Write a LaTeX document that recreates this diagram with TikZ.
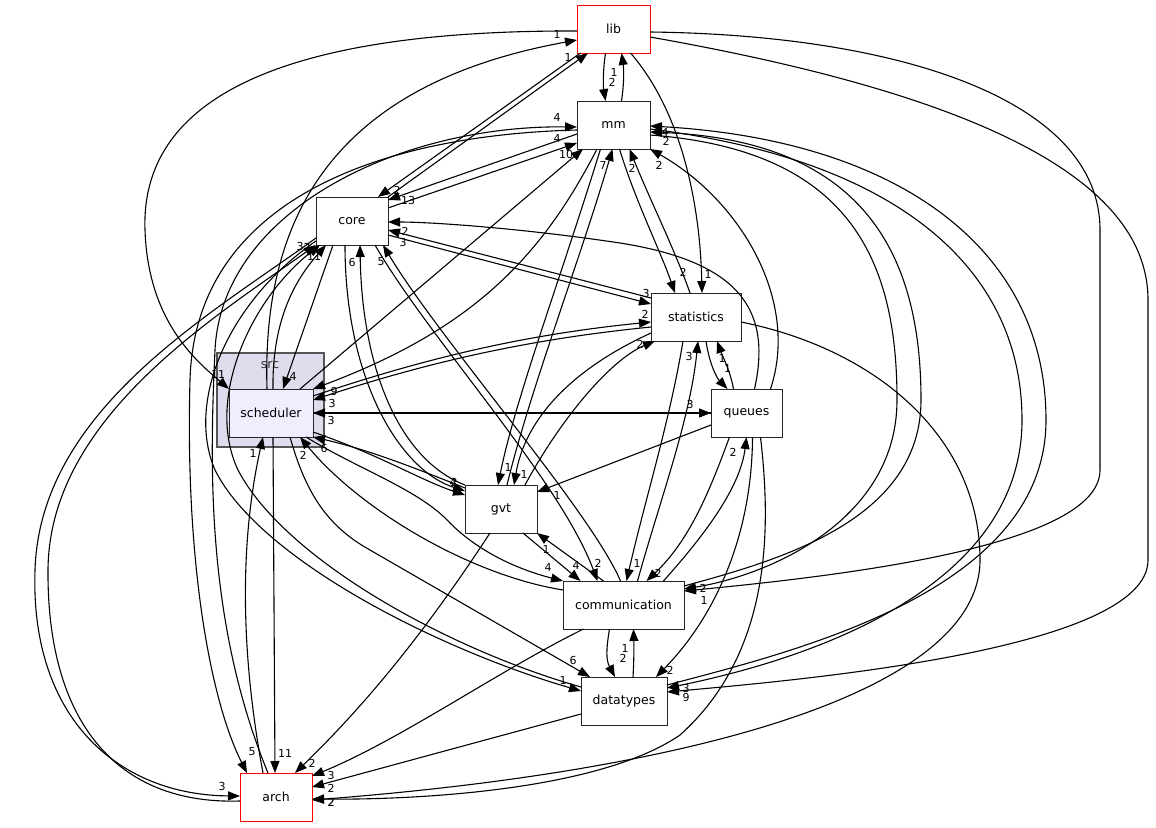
\documentclass[tikz,border=0pt]{standalone}
\usepackage{fontspec}
\setmainfont{DejaVu Sans}
\usepackage{xcolor}
\usetikzlibrary{arrows.meta}
\definecolor{clusterfill}{HTML}{DDDDEE}
\definecolor{clusterline}{HTML}{555555}
\definecolor{schedfill}{HTML}{EEEEFF}
\newcommand{\dirfont}{\fontsize{12.5}{14}\selectfont}
\newcommand{\cntfont}{\fontsize{11}{12}\selectfont}

\begin{document}
\begin{tikzpicture}[x=1pt, y=-1pt,
	dirbox/.style={draw=black!85, line width=1pt, fill=white, minimum height=48pt, minimum width=72pt, inner sep=0pt, outer sep=0pt, font=\dirfont},
	extdir/.style={dirbox, draw=red},
	curdir/.style={dirbox, fill=schedfill},
	cluster/.style={draw=clusterline, line width=1.5pt, fill=clusterfill, inner sep=0pt, outer sep=0pt},
	dep/.style={line width=1.1pt, -{Triangle[length=12pt, width=9pt]}},
	cnt/.style={font=\cntfont, inner sep=0pt}]
		
		\useasboundingbox (0,0) rectangle (1156,827);
		
		%src
		\node[cluster, minimum width=107pt, minimum height=94pt] (src) at (270.5,400) {};
		\node[font=\dirfont, text=black!80] (srcname) at (270,365) {src};
		%lib
		\node[extdir, minimum width=73pt] (lib) at (613.5,29) {lib};
		%mm
		\node[dirbox, minimum width=73pt] (mm) at (613.5,125) {mm};
		%core
		\node[dirbox] (core) at (352,221) {core};
		%statistics
		\node[dirbox, minimum width=90pt] (stats) at (696,317) {statistics};
		%scheduler
		\node[curdir, minimum width=84pt] (sched) at (271,413) {scheduler};
		%queues
		\node[dirbox, minimum width=71pt] (queues) at (746.5,413) {queues};
		%gvt
		\node[dirbox] (gvt) at (501,509) {gvt};
		%communication
		\node[dirbox, minimum width=121pt] (comm) at (623.5,605) {communication};
		%datatypes
		\node[dirbox, minimum width=86pt] (dtypes) at (624,701) {datatypes};
		%arch
		\node[extdir] (arch) at (276,797) {arch};
		
		%lib
		\draw[dep] ([yshift=-2pt]lib.west) .. controls (300,30) and (140,90) .. (145,230) .. controls (148,320) and (195,360) .. (sched.north west) node[cnt, at end, xshift=-11pt, yshift=15pt] {11};
		\draw[dep] ([xshift=-33pt]lib.south) -- ([xshift=26pt]core.north) node[cnt, at end, xshift=19pt, yshift=7pt] {2};
		\draw[dep] ([xshift=-8pt]lib.south) .. controls (603,70) and (603,85) .. ([xshift=-8pt]mm.north) node[cnt, at end, xshift=6.5pt, yshift=19pt] {2};
		\draw[dep] ([xshift=17pt]lib.south) .. controls (680,110) and (700,200) .. ([xshift=6pt]stats.north) node[cnt, at end, xshift=6pt, yshift=19pt] {1};
		\draw[dep] ([yshift=-3pt]lib.east) .. controls (900,35) and (1100,100) .. (1100,230) -- (1100,470) .. controls (1100,545) and (850,575) .. ([yshift=14pt]comm.east) node[cnt, at end, xshift=20pt, yshift=-9pt] {1};
		\draw[dep] ([yshift=-8pt]lib.east) .. controls (950,90) and (1148,170) .. (1148,300) -- (1148,560) .. controls (1148,650) and (800,680) .. ([yshift=9pt]dtypes.east) node[cnt, at end, xshift=19pt, yshift=4pt] {3};
		
		%mm
		\draw[dep] ([xshift=8pt]mm.north) .. controls (624,85) and (624,70) .. ([xshift=8pt]lib.south) node[cnt, at end, xshift=-7.5pt, yshift=-19pt] {1};
		\draw[dep] ([yshift=-9pt]mm.west) -- ([yshift=21pt]core.east) node[cnt, at end, xshift=20pt] {13};
		\draw[dep] ([yshift=-5pt]mm.west) .. controls (380,135) and (195,200) .. (190,380) .. controls (185,560) and (210,700) .. ([xshift=-29pt]arch.north) node[cnt, at end, xshift=5pt, yshift=21pt] {5};
		\draw[dep] ([xshift=-16.5pt]mm.south) .. controls (540,260) and (470,330) .. (sched.north east) node[cnt, at end, xshift=21pt, yshift=-2pt] {9};
		\draw[dep] ([xshift=-13pt]mm.south) .. controls (560,280) and (515,400) .. ([xshift=-3pt]gvt.north) node[cnt, at end, xshift=10pt, yshift=18pt] {1};
		\draw[dep] ([xshift=6pt]mm.south) .. controls (635,200) and (660,250) .. ([xshift=-21pt]stats.north) node[cnt, at end, xshift=8pt, yshift=21pt] {2};
		\draw[dep] ([yshift=-10pt]mm.east) .. controls (850,150) and (897,260) .. (897,400) .. controls (897,520) and (770,575) .. ([yshift=16pt]comm.east) node[cnt, at end, xshift=19pt, yshift=1pt] {2};
		\draw[dep] ([yshift=-4pt]mm.east) .. controls (900,160) and (1022,270) .. (1022,420) .. controls (1022,600) and (780,665) .. ([yshift=13pt]dtypes.east) node[cnt, at end, xshift=19pt, yshift=-9pt] {9};
		
		%core
		\draw[dep] (core.north east) -- ([xshift=-25.5pt]lib.south) node[cnt, at end, xshift=-20pt, yshift=-4pt] {1};
		\draw[dep] ([yshift=13pt]core.east) -- ([yshift=-18pt]mm.west) node[cnt, at end, xshift=-20pt, yshift=5pt] {4};
		\draw[dep] ([yshift=-14pt]core.east) -- ([yshift=-11pt]stats.north west) node[cnt, at end, xshift=-5pt, yshift=11pt] {3};
		\draw[dep] ([xshift=-19pt]core.south) -- ([xshift=12pt]sched.north) node[cnt, at end, xshift=10pt, yshift=13pt] {4};
		\draw[dep] ([xshift=-7pt]core.south) .. controls (345,380) and (400,470) .. ([yshift=-6pt]gvt.north west) node[cnt, at end, xshift=-11pt, yshift=9pt] {2};
		\draw[dep] ([xshift=23pt]core.south) .. controls (430,340) and (560,480) .. ([xshift=-26pt]comm.north) node[cnt, at end, xshift=0.5pt, yshift=18pt] {2};
		\draw[dep] ([yshift=-20pt]core.west) .. controls (230,300) and (185,400) .. (215,470) .. controls (260,560) and (440,650) .. ([yshift=10pt]dtypes.west) node[cnt, at end, xshift=-18pt, yshift=11pt] {1};
		\draw[dep] ([yshift=-17pt]core.west) .. controls (210,315) and (40,410) .. (35,570) .. controls (30,720) and (120,795) .. ([yshift=1pt]arch.west) node[cnt, at end, xshift=-18pt, yshift=10pt] {3};
		
		%statistics
		\draw[dep] ([xshift=-6pt]stats.north) .. controls (675,250) and (650,200) .. ([xshift=16pt]mm.south) node[cnt, at end, xshift=2.5pt, yshift=-19pt] {2};
		\draw[dep] ([yshift=-5pt]stats.north west) -- ([yshift=-9pt]core.east) node[cnt, at end, xshift=15pt, yshift=-12pt] {3};
		\draw[dep] ([yshift=-10pt]stats.west) .. controls (520,340) and (420,365) .. ([yshift=13pt]sched.east) node[cnt, at end, xshift=19pt, yshift=-3pt] {3};
		\draw[dep] ([yshift=8pt]stats.south west) .. controls (570,370) and (525,420) .. ([xshift=13pt]gvt.north) node[cnt, at end, xshift=10pt, yshift=11pt] {1};
		\draw[dep] ([xshift=-13pt]stats.south) .. controls (670,420) and (645,500) .. ([xshift=3pt]comm.north) node[cnt, at end, xshift=10.5pt, yshift=18pt] {1};
		\draw[dep] ([xshift=10pt]stats.south) .. controls (709,362) and (716,377) .. ([xshift=-19pt]queues.north) node[cnt, at end, yshift=21pt] {1};
		\draw[dep] ([yshift=-5pt]stats.east) .. controls (880,350) and (980,440) .. (980,560) .. controls (980,690) and (700,770) .. ([yshift=-3pt]arch.east) node[cnt, at end, xshift=19pt, yshift=-2pt] {2};
		
		%scheduler
		\draw[dep] ([xshift=-4pt]sched.north) .. controls (262,220) and (330,85) .. ([yshift=-11pt]lib.west) node[cnt, at end, xshift=-20pt, yshift=6pt] {1};
		\draw[dep] ([xshift=-13pt]sched.north east) -- ([xshift=-30.5pt]mm.south) node[cnt, at end, xshift=-17pt, yshift=-5pt] {10};
		\draw[dep] ([xshift=2pt]sched.north) .. controls (272,320) and (295,280) .. ([xshift=-26pt]core.south) node[cnt, at end, xshift=-12pt, yshift=-11pt] {11};
		\draw[dep] ([yshift=17pt]sched.east) .. controls (420,360) and (520,335) .. ([yshift=-5pt]stats.west) node[cnt, at end, xshift=-6pt, yshift=8pt] {2};
		\draw[dep] (sched.east) -- (queues.west) node[cnt, at end, xshift=-21pt, yshift=9pt] {3};
		\draw[dep] ([yshift=-19pt]sched.east) .. controls (380,455) and (420,480) .. ([yshift=-10pt]gvt.north west) node[cnt, at end, xshift=-12pt, yshift=13pt] {4};
		\draw[dep] ([xshift=-7pt]sched.south east) .. controls (360,470) and (420,490) .. (450,523) .. controls (480,553) and (520,570) .. (comm.north west) node[cnt, at end, xshift=-15pt, yshift=14pt] {4};
		\draw[dep] ([xshift=19pt]sched.south) .. controls (305,490) and (325,525) .. (370,550) -- ([xshift=-34pt]dtypes.north) node[cnt, at end, xshift=-17pt, yshift=17pt] {6};
		\draw[dep] ([xshift=2pt]sched.south) -- ([xshift=-1pt]arch.north) node[cnt, at end, xshift=10pt, yshift=20pt] {11};
		
		%queues
		\draw[dep] ([xshift=24pt]queues.north) .. controls (800,300) and (740,200) .. (mm.south east) node[cnt, at end, xshift=9pt, yshift=-16pt] {2};
		\draw[dep] ([xshift=8pt]queues.north) .. controls (772,310) and (740,262) .. (620,243) .. controls (520,228) and (430,222) .. ([yshift=-1pt]core.east) node[cnt, at end, xshift=17pt, yshift=-9pt] {2};
		\draw[dep] ([xshift=-13pt]queues.north) .. controls (730,370) and (722,355) .. ([xshift=21pt]stats.south) node[cnt, at end, xshift=5pt, yshift=-17pt] {1};
		\draw[dep] (queues.west) -- (sched.east) node[cnt, at end, xshift=18pt, yshift=-7pt] {3};
		\draw[dep] ([yshift=-12pt]queues.west) -- ([yshift=17pt]gvt.east) node[cnt, at end, xshift=20pt, yshift=-3pt] {1};
		\draw[dep] ([xshift=-17pt]queues.south) .. controls (710,490) and (690,540) .. ([xshift=23pt]comm.north) node[cnt, at end, xshift=11.5pt, yshift=8pt] {2};
		\draw[dep] ([xshift=6pt]queues.south) .. controls (752,540) and (712,620) .. ([xshift=32pt]dtypes.north) node[cnt, at end, xshift=14pt, yshift=7pt] {2};
		\draw[dep] ([xshift=14pt]queues.south) .. controls (770,520) and (775,650) .. (680,735) .. controls (600,790) and (420,800) .. ([yshift=-2pt]arch.east) node[cnt, at end, xshift=19pt, yshift=-3pt] {2};
		
		%gvt
		\draw[dep] ([xshift=6pt]gvt.north) .. controls (530,390) and (580,260) .. ([xshift=-1pt]mm.south) node[cnt, at end, xshift=-9.5pt, yshift=-16pt] {7};
		\draw[dep] (gvt.north west) .. controls (400,460) and (362,370) .. ([xshift=8pt]core.south) node[cnt, at end, xshift=-8pt, yshift=-17pt] {6};
		\draw[dep] ([xshift=24pt]gvt.north) .. controls (560,420) and (610,360) .. ([xshift=4pt]stats.south west) node[cnt, at end, xshift=-15pt, yshift=-3pt] {2};
		\draw[dep] ([yshift=-3pt]gvt.north west) .. controls (420,470) and (370,450) .. (sched.south east) node[cnt, at end, xshift=11pt, yshift=-11pt] {6};
		\draw[dep] ([xshift=22pt]gvt.south) -- ([xshift=-43pt]comm.north) node[cnt, at end, xshift=-4.5pt, yshift=16pt] {4};
		\draw[dep] ([xshift=-11pt]gvt.south) .. controls (420,640) and (360,710) .. ([xshift=19pt]arch.north) node[cnt, at end, xshift=17pt, yshift=10pt] {2};
		
		%communication
		\draw[dep] ([yshift=19pt]comm.east) .. controls (780,560) and (921,520) .. (921,400) .. controls (921,250) and (860,140) .. ([yshift=-7pt]mm.east) node[cnt, at end, xshift=16pt, yshift=-9pt] {2};
		\draw[dep] ([xshift=-3pt]comm.north) .. controls (590,510) and (440,340) .. ([xshift=31pt]core.south) node[cnt, at end, xshift=-2pt, yshift=-17pt] {5};
		\draw[dep] ([xshift=14pt]comm.north) .. controls (660,500) and (690,420) .. ([xshift=2pt]stats.south) node[cnt, at end, xshift=-9pt, yshift=-15pt] {3};
		\draw[dep] ([yshift=15pt]comm.west) .. controls (470,575) and (360,510) .. ([xshift=29pt]sched.south) node[cnt, at end, xshift=3pt, yshift=-18pt] {2};
		\draw[dep] ([xshift=40pt]comm.north) .. controls (700,540) and (740,490) .. (queues.south) node[cnt, at end, xshift=-13.5pt, yshift=-15pt] {2};
		\draw[dep] ([xshift=-20pt]comm.north) -- (gvt.south east) node[cnt, at end, xshift=9pt, yshift=-16pt] {1};
		\draw[dep] ([xshift=-14pt]comm.south) .. controls (606,650) and (606,660) .. ([xshift=-9pt]dtypes.north) node[cnt, at end, xshift=8pt, yshift=19pt] {2};
		\draw[dep] ([xshift=-40pt]comm.south) .. controls (500,670) and (400,740) .. ([yshift=-3pt]arch.north east) node[cnt, at end, xshift=19pt, yshift=1pt] {3};
		
		%datatypes
		\draw[dep] ([yshift=16pt]dtypes.east) .. controls (800,650) and (1046,590) .. (1046,420) .. controls (1046,250) and (900,140) .. ([yshift=-1pt]mm.east) node[cnt, at end, xshift=15pt, yshift=-6pt] {4};
		\draw[dep] ([yshift=14pt]dtypes.west) .. controls (450,650) and (285,560) .. (238,470) .. controls (205,400) and (250,300) .. ([xshift=4pt]core.south west) node[cnt, at end, xshift=-13pt, yshift=-2pt] {2};
		\draw[dep] ([xshift=9pt]dtypes.north) .. controls (634,660) and (634,645) .. ([xshift=10pt]comm.south) node[cnt, at end, xshift=-8.5pt, yshift=-19pt] {1};
		\draw[dep] ([yshift=-13pt]dtypes.west) -- ([yshift=10pt]arch.east) node[cnt, at end, xshift=19pt, yshift=-1pt] {2};
		
		%arch
		\draw[dep] ([xshift=-8pt]arch.north) .. controls (205,620) and (210,460) .. (215,350) .. controls (222,210) and (400,125) .. ([yshift=-2pt]mm.west) node[cnt, at end, xshift=-20pt, yshift=10pt] {4};
		\draw[dep] ([yshift=-4pt]arch.west) .. controls (115,805) and (47,720) .. (48,570) .. controls (49,420) and (210,320) .. (core.south west) node[cnt, at end, xshift=-16pt, yshift=-1pt] {3};
		\draw[dep] ([xshift=-13pt]arch.north) .. controls (240,650) and (240,540) .. ([xshift=-8pt]sched.south) node[cnt, at end, xshift=-10pt, yshift=-16pt] {1};
		
\end{tikzpicture}
\end{document}
